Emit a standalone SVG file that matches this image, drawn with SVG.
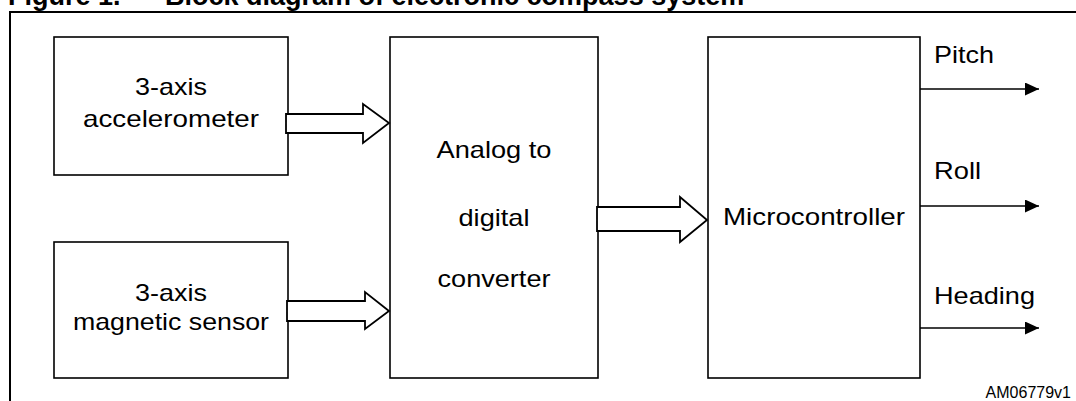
<svg xmlns="http://www.w3.org/2000/svg" width="1076" height="401" viewBox="0 0 1076 401">
<style>
.box{fill:#fff;stroke:#000;stroke-width:1.6}
.blk{fill:#fff;stroke:#000;stroke-width:1.8;stroke-linejoin:miter}
.lbl{font-family:"Liberation Sans",Arial,sans-serif;font-size:24px;fill:#000;text-anchor:middle}
.out{font-family:"Liberation Sans",Arial,sans-serif;font-size:24px;fill:#000}
.line{stroke:#000;stroke-width:1.6;fill:none}
</style>
<defs>
<marker id="ah" markerWidth="14" markerHeight="13" refX="14" refY="6.5" orient="auto" markerUnits="userSpaceOnUse">
<path d="M0,0 L14,6.5 L0,13 Z" fill="#000"/>
</marker>
</defs>
<rect width="1076" height="401" fill="#fff"/>
<g font-family="'Liberation Sans',Arial,sans-serif" font-size="27" font-weight="bold">
<text x="8" y="5">Figure 1.</text>
<text x="165" y="5">Block diagram of electronic compass system</text>
</g>
<path d="M10,401 V12 H1076" fill="none" stroke="#000" stroke-width="2"/>
<g id="accelerometer">
<rect class="box" x="54" y="37" width="234" height="138"/>
<text class="lbl" x="171" y="95" textLength="72" lengthAdjust="spacingAndGlyphs">3-axis</text>
<text class="lbl" x="171" y="127" textLength="176" lengthAdjust="spacingAndGlyphs">accelerometer</text>
</g>
<g id="magnetic-sensor">
<rect class="box" x="54" y="242" width="234" height="136"/>
<text class="lbl" x="171" y="301" textLength="72" lengthAdjust="spacingAndGlyphs">3-axis</text>
<text class="lbl" x="171" y="330" textLength="196" lengthAdjust="spacingAndGlyphs">magnetic sensor</text>
</g>
<g id="adc">
<rect class="box" x="390" y="37" width="208" height="341"/>
<text class="lbl" x="494" y="158" textLength="115" lengthAdjust="spacingAndGlyphs">Analog to</text>
<text class="lbl" x="494" y="226" textLength="71" lengthAdjust="spacingAndGlyphs">digital</text>
<text class="lbl" x="494" y="287" textLength="113" lengthAdjust="spacingAndGlyphs">converter</text>
</g>
<g id="microcontroller">
<rect class="box" x="708" y="37" width="212" height="341"/>
<text class="lbl" x="814" y="225" textLength="182" lengthAdjust="spacingAndGlyphs">Microcontroller</text>
</g>
<g id="connectors">
<path class="blk" d="M286,114 H363 V104 L389,123 L363,143 V133 H286 Z"/>
<path class="blk" d="M287,301 H365 V292 L389,311 L365,329 V321 H287 Z"/>
<path class="blk" d="M597,207 H680 V197 L707,220 L680,242 V231 H597 Z"/>
<line class="line" x1="920" y1="89" x2="1039" y2="89" marker-end="url(#ah)"/>
<line class="line" x1="920" y1="206" x2="1039" y2="206" marker-end="url(#ah)"/>
<line class="line" x1="920" y1="328" x2="1039" y2="328" marker-end="url(#ah)"/>
</g>
<text class="out" x="934" y="63" textLength="60" lengthAdjust="spacingAndGlyphs">Pitch</text>
<text class="out" x="934" y="179" textLength="47" lengthAdjust="spacingAndGlyphs">Roll</text>
<text class="out" x="934" y="304" textLength="101" lengthAdjust="spacingAndGlyphs">Heading</text>
<text x="1071" y="398" text-anchor="end" font-family="'Liberation Sans',Arial,sans-serif" font-size="16">AM06779v1</text>
</svg>
